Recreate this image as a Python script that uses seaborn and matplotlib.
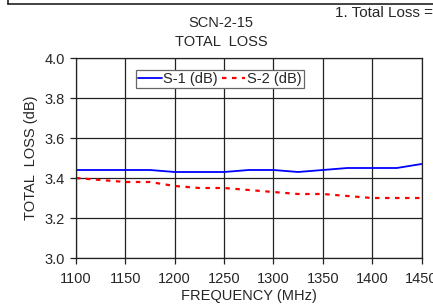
import matplotlib
matplotlib.use("Agg")
import matplotlib.pyplot as plt
from matplotlib.lines import Line2D
import pandas as pd
import seaborn as sns

freq_mhz = [1100, 1125, 1150, 1175, 1200, 1225, 1250, 1275, 1300, 1325, 1350, 1375, 1400, 1425, 1450]
s1_db = [3.44, 3.44, 3.44, 3.44, 3.43, 3.43, 3.43, 3.44, 3.44, 3.43, 3.44, 3.45, 3.45, 3.45, 3.47]
s2_db = [3.40, 3.39, 3.38, 3.38, 3.36, 3.35, 3.35, 3.34, 3.33, 3.32, 3.32, 3.31, 3.30, 3.30, 3.30]
x_ticks = [1100, 1150, 1200, 1250, 1300, 1350, 1400, 1450]
y_ticks = [3.0, 3.2, 3.4, 3.6, 3.8, 4.0]

sns.set_style("white")
plt.rcParams["font.family"] = ["Liberation Sans", "DejaVu Sans"]
fs = 10.5

df = pd.DataFrame({"freq": freq_mhz, "S-1 (dB)": s1_db, "S-2 (dB)": s2_db})

fig = plt.figure(figsize=(4.33, 3.06), dpi=100)
ax = fig.add_axes([76 / 433, 1 - 258 / 306, 345.5 / 433, 200 / 306])

sns.lineplot(data=df, x="freq", y="S-1 (dB)", ax=ax, color="#0000ff", lw=1.3, label="S-1 (dB)")
sns.lineplot(data=df, x="freq", y="S-2 (dB)", ax=ax, color="#ff0000", lw=1.6,
             linestyle=(0, (2, 2.5)), label="S-2 (dB)")

ax.set_xlim(1100, 1450)
ax.set_ylim(3.0, 4.0)
ax.set_xticks(x_ticks)
ax.set_yticks(y_ticks)
ax.set_yticklabels([f"{v:.1f}" for v in y_ticks])
ax.grid(True, color="#222222", lw=0.9)
for s in ax.spines.values():
    s.set_color("#222222")
    s.set_linewidth(0.9)
ax.tick_params(axis="both", direction="out", length=4, width=0.9, color="#222222",
               labelsize=fs, left=True, bottom=True)
ax.tick_params(axis="x", pad=6)
ax.tick_params(axis="y", pad=4)
ax.set_xlabel("FREQUENCY (MHz)", fontsize=fs, labelpad=2)
ax.set_ylabel("TOTAL  LOSS (dB)", fontsize=fs, labelpad=5)

leg = ax.legend(loc="upper left", bbox_to_anchor=(0.174, 0.94), ncol=2, fontsize=fs,
                frameon=True, fancybox=False, edgecolor="#666666", framealpha=1,
                handlelength=1.6, handletextpad=0.1, columnspacing=0.3,
                borderpad=0.15, borderaxespad=0)
leg.get_frame().set_linewidth(0.9)

fig.text(221 / 433, 1 - 23 / 306, "SCN-2-15", ha="center", va="center", fontsize=fs)
fig.text(221 / 433, 1 - 42 / 306, "TOTAL  LOSS", ha="center", va="center", fontsize=fs)
fig.text(335 / 433, 1 - 13 / 306, "1. Total Loss =", ha="left", va="center", fontsize=11)

fig.add_artist(Line2D([8 / 433, 1.0], [1 - 4 / 306, 1 - 4 / 306], color="#222222", lw=1.2))
fig.add_artist(Line2D([8 / 433, 8 / 433], [1 - 4 / 306, 1.0], color="#222222", lw=1.2))

fig.savefig("out.png", dpi=100)
